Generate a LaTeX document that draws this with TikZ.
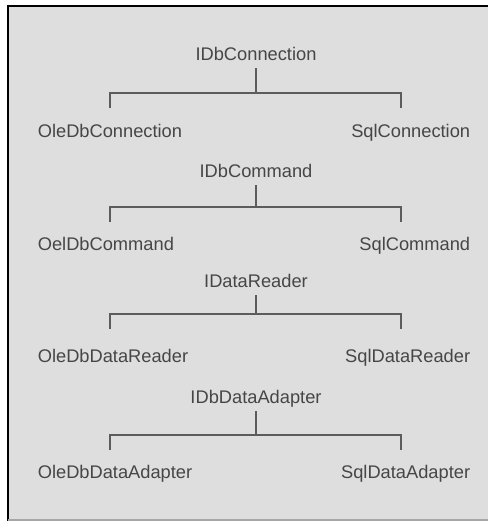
\documentclass[tikz,border=0pt]{standalone}
\usepackage{fontspec}
\setmainfont{Liberation Sans}
\definecolor{panel}{RGB}{222,222,222}
\definecolor{ink}{RGB}{70,70,70}
\definecolor{wire}{RGB}{92,92,92}
\tikzset{
  iface/.style = {anchor=base, text=ink, inner sep=2pt, text depth=0.25em,
                  font=\fontsize{10.4}{12}\selectfont},
  impl/.style  = {iface},
  link/.style  = {draw=wire, line width=1.1pt},
}

\begin{document}
\begin{tikzpicture}[x=0.02cm, y=-0.02cm]
  \useasboundingbox (0,0) rectangle (488,521);
  \fill[panel] (8,6) rectangle (488,521);
  \draw[black, line width=1.2pt] (8,521) -- (8,6) -- (488,6);
  \draw[gray!70, line width=0.6pt] (8,520) -- (488,520);
  % one interface with its two implementations per row
  \foreach \i/\iname/\oname/\sname/\yt/\yb/\yk in {
      1/IDbConnection/OleDbConnection/SqlConnection/60/93/137,
      2/IDbCommand/OelDbCommand/SqlCommand/177/207/250,
      3/IDataReader/OleDbDataReader/SqlDataReader/287/314/362,
      4/IDbDataAdapter/OleDbDataAdapter/SqlDataAdapter/403/435/478}{
    \node[iface] (top-\i) at (256,\yt) {\iname};
    \node[impl, anchor=base west] (ole-\i) at (34,\yk) {\oname};
    \node[impl, anchor=base east] (sql-\i) at (474,\yk) {\sname};
    \coordinate (bar-\i) at (256,\yb);
    \coordinate (dropL-\i) at (110,\yb+15);
    \coordinate (dropR-\i) at (401,\yb+15);
    \draw[link] (top-\i.south) -- (bar-\i);
    \draw[link] (dropL-\i) |- (bar-\i) -| (dropR-\i);
  }
\end{tikzpicture}
\end{document}
